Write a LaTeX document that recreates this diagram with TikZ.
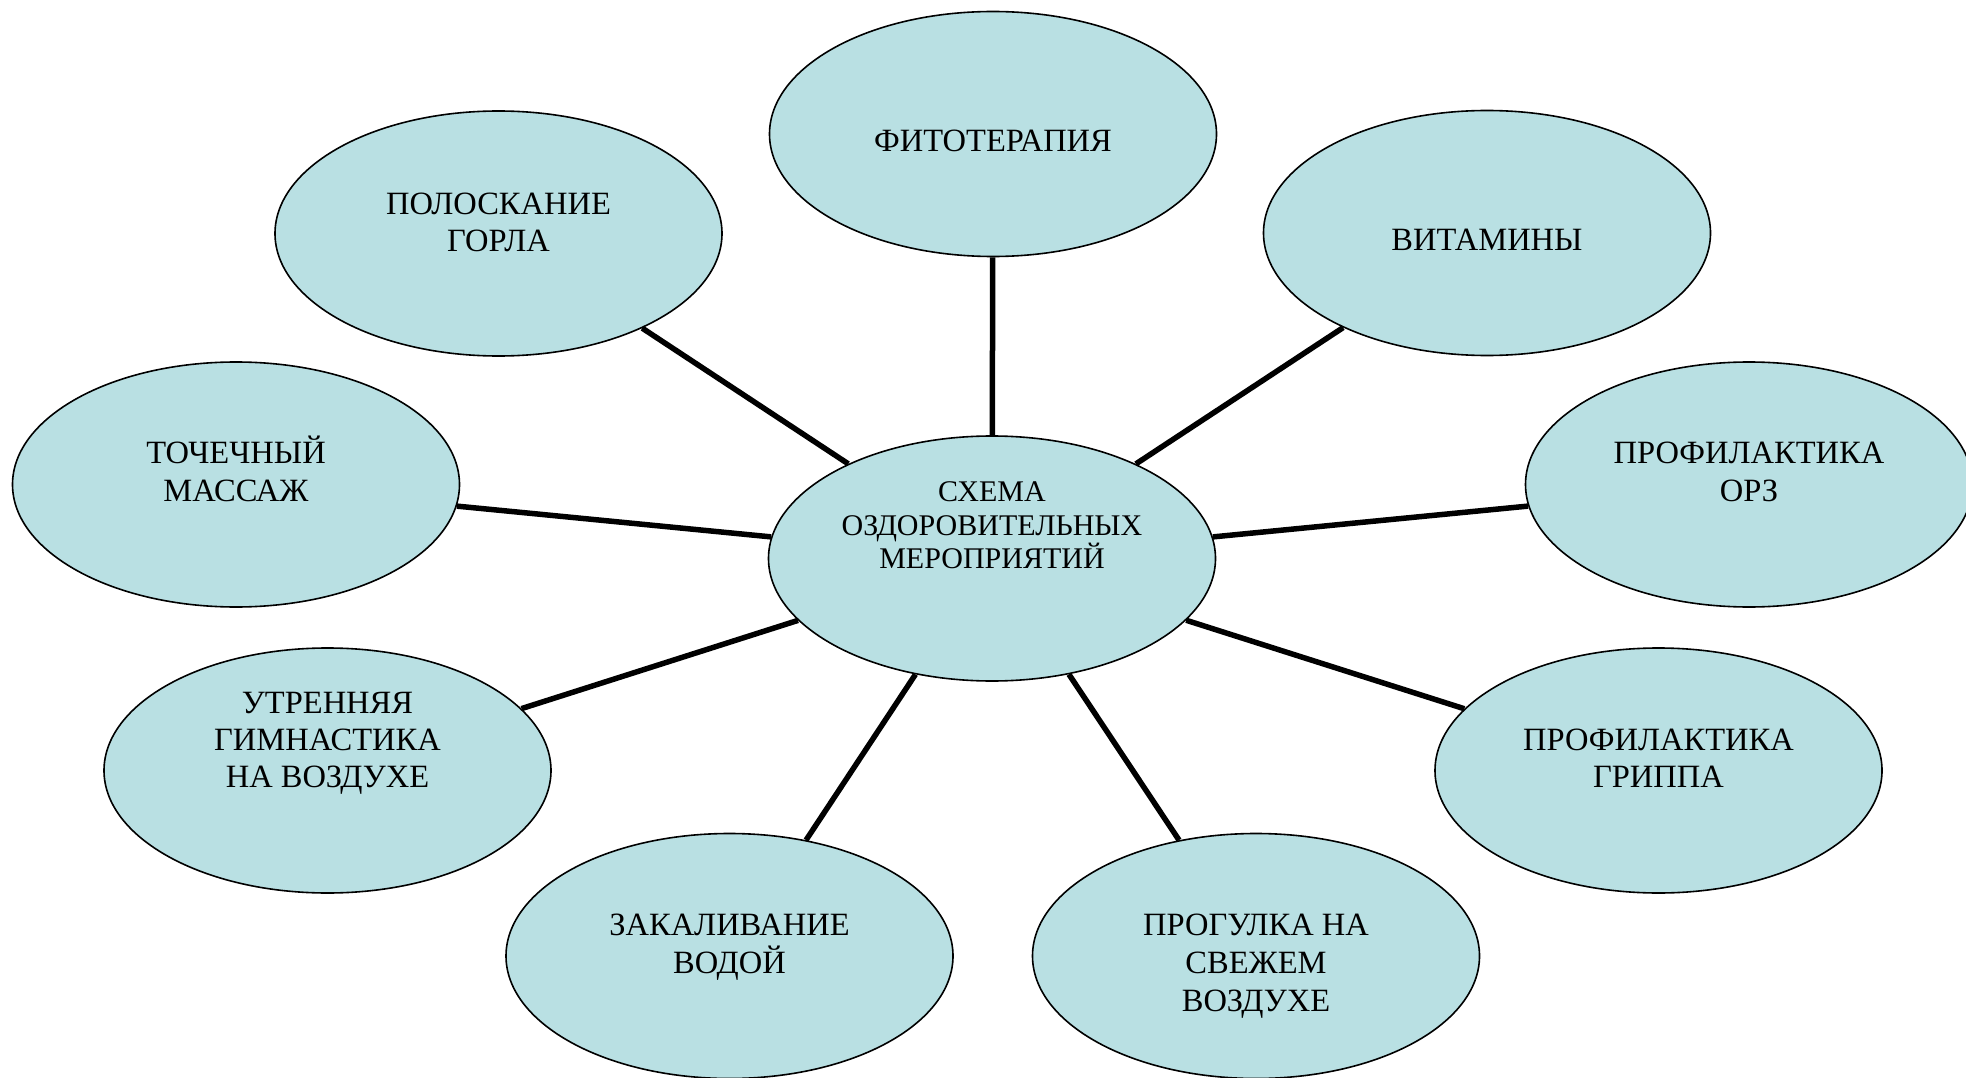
\documentclass[tikz,border=0pt]{standalone}
\usepackage{fontspec}
\setmainfont{Liberation Serif}
\usetikzlibrary{shapes.geometric}
\definecolor{bubble}{RGB}{185,224,227}
\tikzset{
  bub/.style={ellipse, draw=black, line width=1.6pt, fill=bubble, minimum width=447pt, minimum height=245pt, inner sep=0pt},
  conn/.style={line width=5.5pt, black},
  txt/.style={anchor=base, inner sep=0pt, font=\fontsize{32.5}{37}\selectfont},
  ctxt/.style={anchor=base, inner sep=0pt, font=\fontsize{30}{34}\selectfont}
}
\begin{document}
\begin{tikzpicture}[x=1pt,y=-1pt]
\useasboundingbox (0,0) rectangle (1966,1078);
\node[bub] (c) at (992,558.5) {};
\node[bub] (fito) at (993,134) {};
\node[bub] (pol) at (498.5,233.5) {};
\node[bub] (vit) at (1487,233) {};
\node[bub] (toch) at (236,484.5) {};
\node[bub] (orz) at (1749,484.5) {};
\node[bub] (utr) at (327.5,770.5) {};
\node[bub] (grip) at (1658.5,770.5) {};
\node[bub] (zak) at (729.5,956) {};
\node[bub] (prog) at (1256,956) {};
\foreach \n in {fito,pol,vit,toch,orz,utr,grip,zak,prog}
  \draw[conn] (c) -- (\n);
% texts
\node[ctxt] (c1) at (992,501) {СХЕМА};
\node[ctxt] (c2) at (992,535) {ОЗДОРОВИТЕЛЬНЫХ};
\node[ctxt] (c3) at (992,568.5) {МЕРОПРИЯТИЙ};
\node[txt] (f1) at (993,152) {ФИТОТЕРАПИЯ};
\node[txt] (p1) at (498.5,215) {ПОЛОСКАНИЕ};
\node[txt] (p2) at (498.5,252) {ГОРЛА};
\node[txt] (v1) at (1487,251) {ВИТАМИНЫ};
\node[txt] (t1) at (236,463) {ТОЧЕЧНЫЙ};
\node[txt] (t2) at (236,501) {МАССАЖ};
\node[txt] (o1) at (1749,463) {ПРОФИЛАКТИКА};
\node[txt] (o2) at (1749,501) {ОРЗ};
\node[txt] (u1) at (327.5,713) {УТРЕННЯЯ};
\node[txt] (u2) at (327.5,750) {ГИМНАСТИКА};
\node[txt] (u3) at (327.5,787) {НА ВОЗДУХЕ};
\node[txt] (g1) at (1658.5,750) {ПРОФИЛАКТИКА};
\node[txt] (g2) at (1658.5,787) {ГРИППА};
\node[txt] (z1) at (729.5,935) {ЗАКАЛИВАНИЕ};
\node[txt] (z2) at (729.5,973) {ВОДОЙ};
\node[txt] (r1) at (1256,935) {ПРОГУЛКА НА};
\node[txt] (r2) at (1256,973) {СВЕЖЕМ};
\node[txt] (r3) at (1256,1011) {ВОЗДУХЕ};
\end{tikzpicture}
\end{document}
